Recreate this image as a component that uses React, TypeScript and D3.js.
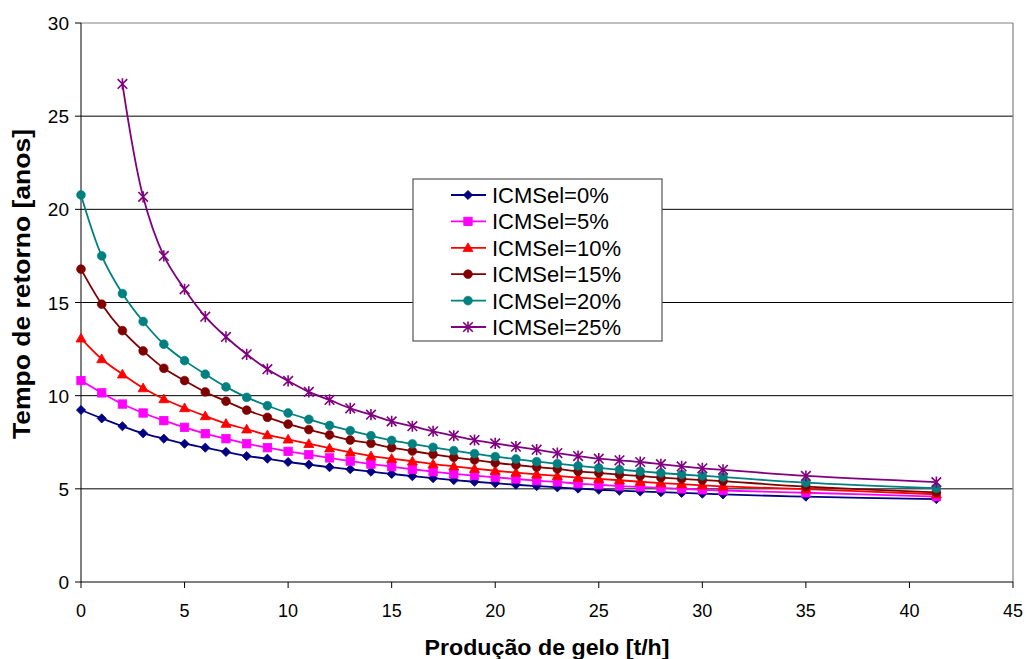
import React from "react";
import * as d3 from "d3";

const xValues: number[] = [0,1,2,3,4,5,6,7,8,9,10,11,12,13,14,15,16,17,18,19,20,21,22,23,24,25,26,27,28,29,30,31,35,41.3];

const icms0: number[] = [9.23,8.78,8.36,7.98,7.69,7.42,7.21,6.98,6.76,6.62,6.44,6.30,6.16,6.05,5.92,5.80,5.68,5.57,5.47,5.38,5.30,5.22,5.15,5.08,5.01,4.95,4.90,4.86,4.82,4.78,4.74,4.70,4.58,4.45];
const icms5: number[] = [10.81,10.15,9.55,9.07,8.66,8.30,7.96,7.69,7.42,7.21,7.01,6.83,6.66,6.49,6.33,6.19,6.05,5.92,5.80,5.71,5.62,5.53,5.44,5.37,5.28,5.22,5.15,5.10,5.05,5.00,4.95,4.91,4.79,4.58];
const icms10: number[] = [13.08,11.97,11.15,10.41,9.82,9.34,8.91,8.50,8.20,7.89,7.66,7.42,7.18,6.96,6.76,6.62,6.48,6.33,6.21,6.08,5.97,5.87,5.78,5.69,5.60,5.53,5.46,5.38,5.31,5.25,5.19,5.13,4.98,4.71];
const icms15: number[] = [16.79,14.91,13.49,12.40,11.47,10.81,10.20,9.70,9.22,8.84,8.47,8.18,7.89,7.62,7.44,7.21,7.03,6.85,6.69,6.55,6.40,6.28,6.17,6.07,5.94,5.85,5.76,5.69,5.60,5.53,5.47,5.41,5.12,4.81];
const icms20: number[] = [20.77,17.50,15.48,13.98,12.76,11.88,11.15,10.47,9.91,9.46,9.07,8.73,8.40,8.12,7.85,7.60,7.41,7.23,7.05,6.89,6.73,6.60,6.46,6.35,6.23,6.12,6.03,5.94,5.85,5.77,5.70,5.63,5.33,5.03];
const icms25: (number | null)[] = [null,null,26.73,20.67,17.50,15.71,14.24,13.15,12.22,11.42,10.79,10.20,9.77,9.32,8.98,8.62,8.36,8.09,7.85,7.62,7.44,7.26,7.10,6.92,6.76,6.62,6.53,6.44,6.32,6.20,6.10,6.02,5.69,5.36];

const seriesNames: string[] = ["ICMSel=0%","ICMSel=5%","ICMSel=10%","ICMSel=15%","ICMSel=20%","ICMSel=25%"];
const seriesColors: string[] = ["#000080","#FF00FF","#FF0000","#800000","#008080","#800080"];
const seriesMarkers: string[] = ["diamond","square","triangle","circle","circle","star"];
const seriesValues: (number | null)[][] = [icms0, icms5, icms10, icms15, icms20, icms25];

const xTicks: number[] = [0,5,10,15,20,25,30,35,40,45];
const yTicks: number[] = [0,5,10,15,20,25,30];

const FONT = "'Liberation Sans', Arial, sans-serif";

function Marker({ type, x, y, color }: { type: string; x: number; y: number; color: string }) {
  if (type === "diamond") {
    const s = 4.6;
    return <path d={`M${x},${y - s}L${x + s},${y}L${x},${y + s}L${x - s},${y}Z`} fill={color} stroke={color} strokeWidth={0.8} />;
  }
  if (type === "square") {
    const s = 4.2;
    return <rect x={x - s} y={y - s} width={2 * s} height={2 * s} fill={color} stroke={color} strokeWidth={0.8} />;
  }
  if (type === "triangle") {
    const s = 5;
    return <path d={`M${x},${y - s}L${x + s},${y + s * 0.75}L${x - s},${y + s * 0.75}Z`} fill={color} stroke={color} strokeWidth={0.8} />;
  }
  if (type === "circle") {
    return <circle cx={x} cy={y} r={4.4} fill={color} stroke={color} strokeWidth={0.6} />;
  }
  const s = 4.8;
  return (
    <path
      d={`M${x - s},${y - s}L${x + s},${y + s}M${x - s},${y + s}L${x + s},${y - s}M${x},${y - s - 0.8}L${x},${y + s + 0.8}`}
      fill="none"
      stroke={color}
      strokeWidth={1.6}
    />
  );
}

export default function App() {
  const W = 1026, H = 659;
  const x = d3.scaleLinear().domain([0, 45]).range([81, 1013]);
  const y = d3.scaleLinear().domain([0, 30]).range([582, 23]);

  const line = d3
    .line<[number, number | null]>()
    .defined((d) => d[1] !== null)
    .x((d) => x(d[0]))
    .y((d) => y(d[1] as number))
    .curve(d3.curveCatmullRom.alpha(0.5));

  const legendX = 413, legendY = 179, legendW = 249, legendH = 162;

  return (
    <svg width={W} height={H} style={{ position: "absolute", left: 0, top: 0, background: "#fff" }} fontFamily={FONT}>
      <rect x={0} y={0} width={W} height={H} fill="#fff" />
      {yTicks.filter((t) => t > 0 && t < 30).map((t) => (
        <line key={"g" + t} x1={x(0)} x2={x(45)} y1={y(t)} y2={y(t)} stroke="#000" strokeWidth={1} />
      ))}
      <line x1={x(0)} x2={x(45)} y1={y(30)} y2={y(30)} stroke="#808080" strokeWidth={1.2} />
      <line x1={x(45)} x2={x(45)} y1={y(30)} y2={y(0)} stroke="#808080" strokeWidth={1.2} />
      <line x1={x(0)} x2={x(0)} y1={y(30)} y2={y(0)} stroke="#000" strokeWidth={1} />
      <line x1={x(0)} x2={x(45)} y1={y(0)} y2={y(0)} stroke="#000" strokeWidth={1} />
      {yTicks.map((t) => (
        <g key={"yt" + t}>
          <line x1={x(0) - 6} x2={x(0)} y1={y(t)} y2={y(t)} stroke="#000" />
          <text x={69} y={y(t) + 7} textAnchor="end" fontSize={19} fill="#000">{t}</text>
        </g>
      ))}
      {xTicks.map((t) => (
        <g key={"xt" + t}>
          <line x1={x(t)} x2={x(t)} y1={y(0)} y2={y(0) + 6} stroke="#000" />
          <text x={x(t)} y={617} textAnchor="middle" fontSize={18} fill="#000">{t}</text>
        </g>
      ))}
      <text x={547} y={655} textAnchor="middle" fontSize={22} fontWeight="bold" fill="#000" textLength={245} lengthAdjust="spacingAndGlyphs">Produção de gelo [t/h]</text>
      <text transform={`translate(30,284) rotate(-90)`} textAnchor="middle" fontSize={23} fontWeight="bold" fill="#000" textLength={310} lengthAdjust="spacingAndGlyphs">Tempo de retorno [anos]</text>

      {seriesValues.map((vals, i) => {
        const pts: [number, number | null][] = xValues.map((xv, j) => [xv, vals[j]]);
        return (
          <g key={"s" + i}>
            <path d={line(pts) || ""} fill="none" stroke={seriesColors[i]} strokeWidth={1.8} />
            {pts.filter((p) => p[1] !== null).map((p, j) => (
              <Marker key={j} type={seriesMarkers[i]} x={x(p[0])} y={y(p[1] as number)} color={seriesColors[i]} />
            ))}
          </g>
        );
      })}

      <rect x={legendX} y={legendY} width={legendW} height={legendH} fill="#fff" stroke="#555" strokeWidth={1.2} />
      {seriesNames.map((name, i) => {
        const cy = 195 + i * 26.4;
        return (
          <g key={"l" + i}>
            <line x1={451} x2={486} y1={cy} y2={cy} stroke={seriesColors[i]} strokeWidth={1.8} />
            <Marker type={seriesMarkers[i]} x={468} y={cy} color={seriesColors[i]} />
            <text x={492} y={cy + 8} fontSize={22} fill="#000">{name}</text>
          </g>
        );
      })}
    </svg>
  );
}
